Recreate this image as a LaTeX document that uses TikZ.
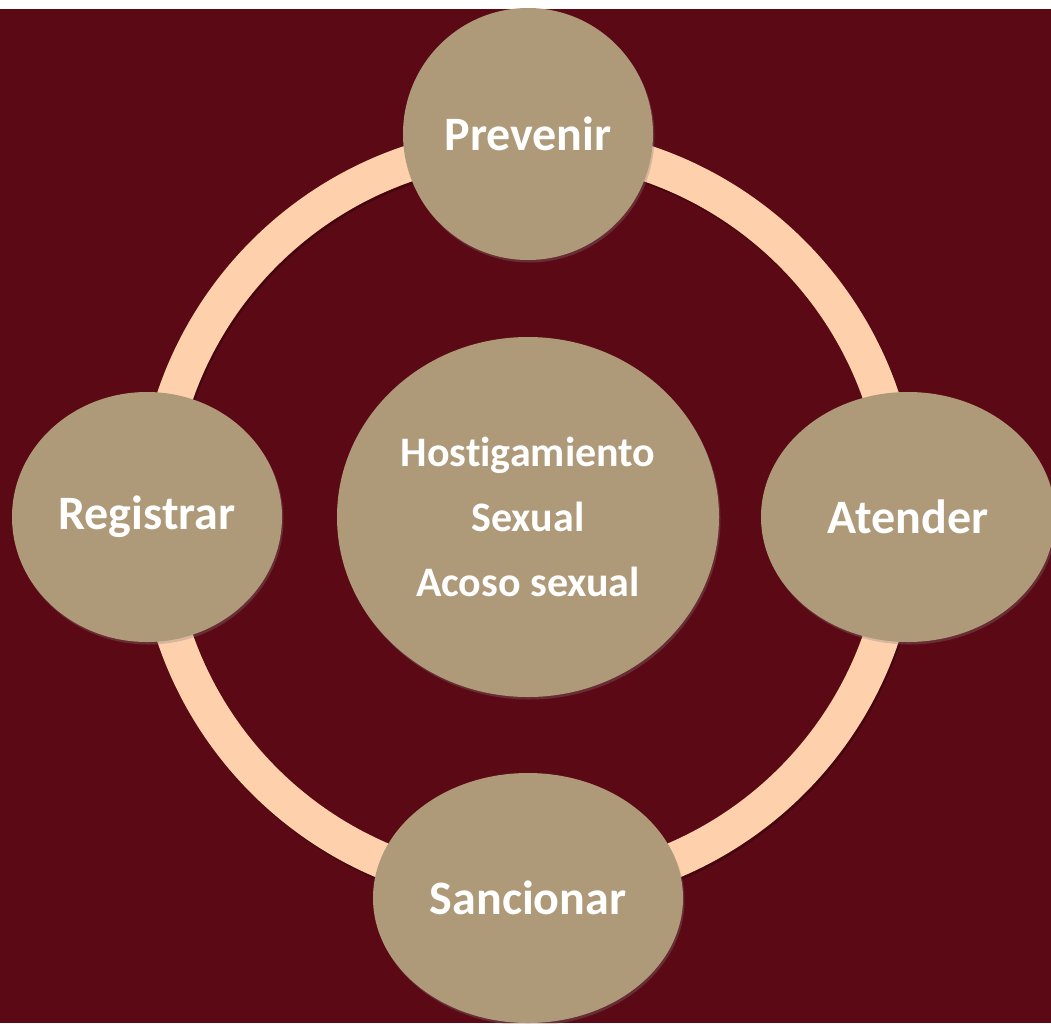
\documentclass[tikz,border=0pt]{standalone}
\usepackage{fontspec}
\setmainfont{Carlito}[Ligatures=CommonOff]
\usepackage{tikz}
\usetikzlibrary{shapes.geometric,shadows}
\usetikzlibrary{positioning,calc}
\definecolor{bgmaroon}{RGB}{91,10,21}
\definecolor{nodetan}{RGB}{174,153,120}
\definecolor{ringpeach}{RGB}{255,208,172}
\tikzset{
	every node/.style={text=white}
}
\tikzset{
	main node/.style={ellipse,fill=nodetan,inner sep=0pt,outer sep=0pt,
		drop shadow={opacity=0.3,shadow xshift=1.5pt,shadow yshift=-2.5pt},
		font=\fontsize{48}{56}\selectfont\bfseries},
	core node/.style={main node,align=center,font=\fontsize{42}{65}\selectfont\bfseries},
	ring/.style={draw=ringpeach,line width=36pt}
}

\begin{document}
\begin{tikzpicture}[x=1pt,y=-1pt]
      \useasboundingbox (0,0) rectangle (1051,1023);
      \clip (0,0) rectangle (1051,1023);
      \fill[bgmaroon] (0,9) rectangle (1051,1023);
      \coordinate (mid) at (528,517);
      % ring behind the nodes
      \draw[ring,draw=black,opacity=0.25] ($(mid)+(1.5,2.5)$) circle[radius=373];
      \draw[ring] (mid) circle[radius=373];
      \node[core node,minimum width=382pt,minimum height=360pt] (hs) at (mid) {Host\kern0pt igamiento\\Sexual\\Acoso sexual};
      \node[main node,minimum width=250pt,minimum height=252pt] (prev) [above=77pt of hs] {Prevenir};
      \node[main node,minimum width=294pt,minimum height=250pt] (aten) [right=42pt of hs] {Atender};
      \node[main node,minimum width=310pt,minimum height=250pt] (sanc) [below=76pt of hs] {Sancionar};
      \node[main node,minimum width=270pt,minimum height=250pt] (regi) [left=55pt of hs] {Registrar};
    \end{tikzpicture}
\end{document}
